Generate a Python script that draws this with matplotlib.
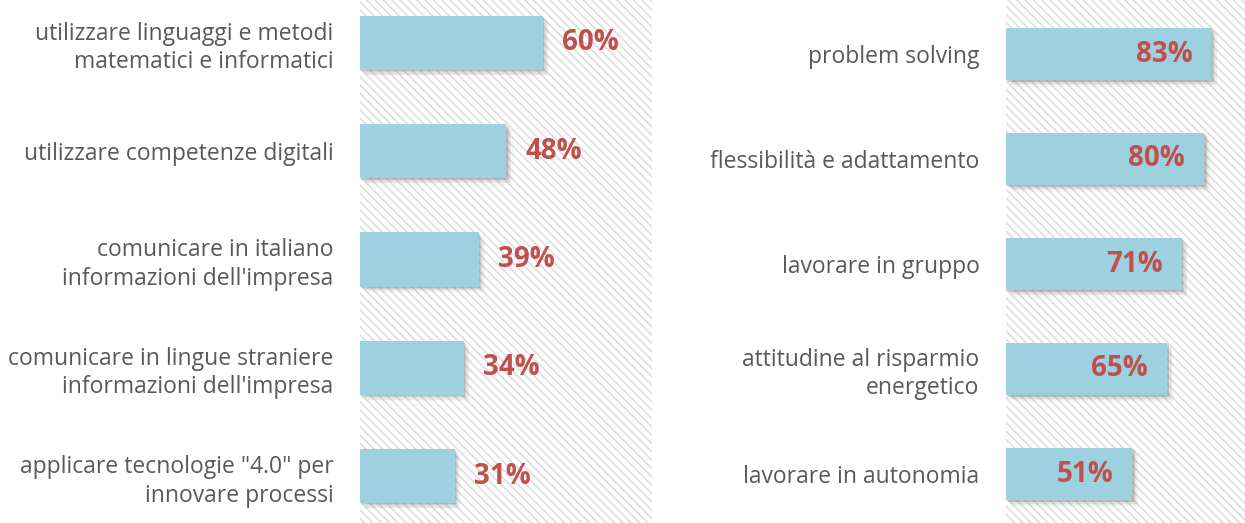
import matplotlib
matplotlib.use("Agg")
import matplotlib.pyplot as plt
import matplotlib.transforms as mtransforms
from matplotlib.patches import Rectangle

left_labels = [
    "utilizzare linguaggi e metodi\nmatematici e informatici",
    "utilizzare competenze digitali",
    "comunicare in italiano\ninformazioni dell'impresa",
    "comunicare in lingue straniere\ninformazioni dell'impresa",
    "applicare tecnologie \"4.0\" per\ninnovare processi",
]
left_values = [60, 48, 39, 34, 31]

right_labels = [
    "problem solving",
    "flessibilità e adattamento",
    "lavorare in gruppo",
    "attitudine al risparmio\nenergetico",
    "lavorare in autonomia",
]
right_values = [83, 80, 71, 65, 51]

BAR = "#9DD1E0"
RED = "#C0504D"
TXT = "#595959"
FONT = "Open Sans"

plt.rcParams["hatch.linewidth"] = 1.2

W, H = 1245, 523
fig = plt.figure(figsize=(W / 100, H / 100), dpi=100)


def panel(rect, labels, values, xmax, ylim, inside):
    ax = fig.add_axes(rect)
    ax.set_xlim(0, xmax)
    ax.set_ylim(*ylim)
    for s in ax.spines.values():
        s.set_visible(False)
    ax.set_facecolor("white")
    bg = Rectangle((0, 0), 1, 1, transform=ax.transAxes, facecolor="white",
                   edgecolor="#dedede", hatch="\\\\\\\\", linewidth=0, zorder=0)
    ax.add_patch(bg)
    pos = list(range(len(values)))
    # shadow layers
    for k, a in [(2, 0.20), (3, 0.14), (5, 0.10), (7, 0.07), (9, 0.04)]:
        off = mtransforms.ScaledTranslation(k / 100 * 0.7, -k / 100 * 0.7, fig.dpi_scale_trans)
        ax.barh(pos, values, height=0.5, color="#6f6f6f", alpha=a,
                transform=ax.transData + off, zorder=1, linewidth=0)
    ax.barh(pos, values, height=0.5, color=BAR, zorder=2, linewidth=0)
    ax.set_yticks(pos)
    ax.set_yticklabels(labels, fontsize=16.5, color=TXT, family=FONT,
                       multialignment="right", linespacing=1.25)
    ax.tick_params(axis="y", length=0, pad=19)
    ax.set_xticks([])
    for p, v in zip(pos, values):
        if inside:
            ax.annotate(f"{v}%", (v, p), xytext=(-14, 0), textcoords="offset points",
                        ha="right", va="center", fontsize=20, fontweight="bold",
                        color=RED, family=FONT, zorder=3)
        else:
            ax.annotate(f"{v}%", (v, p), xytext=(14, 0), textcoords="offset points",
                        ha="left", va="center", fontsize=20, fontweight="bold",
                        color=RED, family=FONT, zorder=3)
    return ax


# left panel: bars start at x=360 px, 3.05 px per %
panel([360 / W, 0, (652 - 360) / W, 1], left_labels, left_values,
      (652 - 360) / 3.05, (4 + 47 / 108.25, -43 / 108.25), False)
# right panel: bars start at x=1006 px, 2.48 px per %
panel([1006 / W, 0, (W - 1006) / W, 1], right_labels, right_values,
      (W - 1006) / 2.48, (4 + 49 / 105, -54 / 105), True)

fig.savefig("out.png", dpi=100)
